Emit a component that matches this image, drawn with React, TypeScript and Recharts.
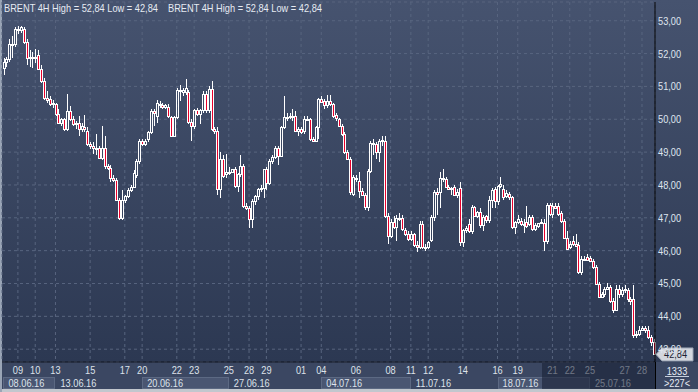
import { BarChart, Bar, XAxis, YAxis, CartesianGrid, ReferenceLine } from 'recharts';

// BRENT 4H candles, 08.06.16 – 28.07.16
const opens = [
    51.55, 51.75, 51.82, 52.3, 52.28, 52.75, 52.72, 52.75, 52.36, 51.85,
    51.9, 51.85, 51.97, 51.54, 51.18, 50.65, 50.62, 50.45, 50.45, 50.16,
    49.9, 50.0, 49.7, 50.26, 50.0, 49.85, 49.9, 49.7, 49.75, 49.65,
    49.24, 49.18, 49.13, 49.13, 48.83, 49.13, 48.57, 48.52, 48.2, 48.16,
    47.54, 46.98, 47.54, 47.65, 47.85, 47.95, 48.3, 48.72, 49.34, 49.24,
    49.39, 49.6, 50.26, 50.1, 50.45, 50.42, 50.36, 50.37, 50.06, 49.5,
    50.06, 50.9, 50.83, 50.83, 50.83, 49.91, 49.81, 50.27, 50.16, 50.27,
    50.78, 50.27, 50.93, 49.7, 49.65, 47.87, 48.79, 48.33, 48.4, 48.4,
    48.48, 47.97, 48.33, 48.58, 47.36, 47.31, 46.95, 47.51, 47.66, 47.87,
    47.92, 48.48, 48.07, 48.73, 48.84, 49.12, 48.89, 49.76, 50.06, 50.11,
    50.06, 50.11, 49.65, 49.7, 49.65, 50.01, 50.01, 49.4, 49.35, 49.76,
    50.62, 50.57, 50.42, 50.57, 50.47, 50.13, 50.0, 49.8, 49.55, 48.99,
    48.79, 47.73, 48.2, 48.13, 47.83, 47.68, 47.32, 48.43, 49.29, 49.24,
    48.99, 49.34, 49.34, 47.07, 46.46, 46.87, 46.72, 47.0, 47.0, 46.62,
    46.52, 46.36, 46.5, 46.16, 46.11, 46.82, 46.11, 46.11, 46.31, 47.02,
    47.78, 47.78, 48.21, 48.18, 47.93, 47.88, 47.93, 47.68, 47.91, 46.26,
    46.62, 46.82, 46.6, 47.32, 47.07, 47.17, 46.77, 47.07, 46.92, 47.53,
    47.87, 47.52, 47.97, 47.87, 47.67, 47.72, 47.62, 46.71, 46.86, 46.91,
    46.81, 46.86, 46.81, 47.01, 46.66, 46.76, 46.83, 46.83, 46.28, 47.39,
    47.11, 47.36, 47.36, 47.16, 46.91, 46.4, 46.1, 46.3, 46.2, 46.18,
    45.34, 45.75, 45.8, 45.78, 45.7, 45.5, 44.99, 44.59, 44.69, 44.84,
    44.89, 44.48, 44.18, 44.84, 44.69, 44.79, 44.79, 44.54, 44.54, 43.42,
    43.47, 43.58, 43.63, 43.58, 43.37, 43.22,
];
const highs = [
    51.85, 51.9, 52.45, 52.55, 52.82, 52.84, 52.84, 52.8, 52.45, 52.1,
    52.05, 52.15, 52.1, 51.65, 51.25, 50.85, 50.7, 50.6, 50.5, 50.3,
    50.05, 50.05, 50.78, 50.4, 50.1, 49.95, 50.1, 49.9, 50.12, 49.75,
    49.3, 49.3, 49.55, 49.2, 49.8, 49.5, 48.65, 48.6, 48.3, 48.2,
    47.6, 47.85, 47.7, 47.9, 48.0, 48.45, 48.8, 49.4, 49.4, 49.4,
    49.65, 50.3, 50.3, 50.6, 50.55, 50.5, 50.45, 50.45, 50.1, 50.1,
    50.95, 51.03, 50.95, 51.23, 50.9, 50.0, 50.3, 50.35, 50.3, 50.85,
    50.85, 51.0, 51.18, 49.75, 49.75, 49.0, 48.9, 48.95, 48.55, 48.5,
    48.55, 48.35, 48.9, 48.65, 47.45, 47.35, 47.56, 47.7, 47.9, 48.0,
    48.5, 48.55, 48.8, 48.9, 49.2, 49.2, 49.8, 50.7, 50.2, 50.2,
    50.3, 50.25, 49.75, 49.75, 50.1, 50.1, 50.05, 49.45, 49.8, 50.65,
    50.7, 50.62, 50.75, 50.75, 50.5, 50.2, 50.05, 49.85, 49.6, 49.05,
    48.85, 48.3, 48.3, 48.4, 47.9, 47.75, 48.5, 49.35, 49.4, 49.3,
    49.4, 49.5, 49.5, 47.15, 46.95, 47.05, 47.1, 47.15, 47.1, 46.7,
    46.6, 46.6, 46.55, 46.3, 46.9, 46.9, 46.2, 46.3, 47.1, 47.85,
    47.9, 48.4, 48.5, 48.25, 48.0, 47.95, 48.0, 47.88, 48.1, 46.65,
    46.75, 46.95, 47.4, 47.35, 47.2, 47.3, 47.1, 47.1, 47.65, 47.9,
    47.95, 48.0, 48.24, 48.0, 47.85, 47.8, 47.67, 46.9, 47.1, 47.0,
    46.95, 47.35, 47.1, 47.1, 46.85, 46.85, 46.95, 46.95, 47.45, 47.45,
    47.45, 47.45, 47.45, 47.2, 46.95, 46.6, 46.3, 46.45, 46.5, 46.25,
    45.85, 45.85, 45.9, 45.85, 45.75, 45.55, 45.05, 44.75, 44.9, 45.0,
    44.95, 44.55, 44.95, 44.95, 44.9, 44.95, 44.85, 44.6, 44.95, 43.55,
    43.7, 43.7, 43.7, 43.7, 43.42, 43.3,
];
const lows = [
    51.35, 51.6, 51.75, 51.85, 52.2, 52.6, 52.62, 52.3, 51.65, 51.6,
    51.55, 51.7, 51.5, 51.1, 50.6, 50.5, 50.4, 50.35, 50.1, 49.85,
    49.8, 49.65, 49.65, 49.95, 49.8, 49.7, 49.5, 49.6, 49.6, 49.2,
    49.1, 48.95, 48.9, 48.8, 48.75, 48.5, 48.45, 48.1, 48.1, 47.5,
    46.92, 46.93, 47.45, 47.6, 47.8, 47.9, 48.2, 48.65, 49.2, 49.2,
    49.3, 49.55, 49.8, 49.9, 50.35, 50.3, 50.3, 50.05, 49.45, 49.45,
    50.0, 50.57, 50.7, 50.75, 49.85, 49.35, 49.7, 50.1, 49.85, 50.2,
    50.2, 50.2, 49.65, 49.55, 47.7, 47.6, 48.2, 48.2, 48.3, 48.35,
    47.9, 47.8, 48.25, 47.3, 47.25, 46.69, 46.69, 47.4, 47.55, 47.8,
    47.6, 47.85, 48.0, 48.65, 48.8, 48.6, 48.85, 49.7, 49.95, 50.0,
    49.95, 49.6, 49.5, 49.55, 49.55, 49.95, 49.35, 49.3, 49.3, 49.4,
    50.5, 50.3, 50.35, 50.4, 50.05, 49.95, 49.75, 49.5, 48.95, 48.75,
    47.7, 47.65, 48.1, 47.6, 47.65, 47.25, 47.2, 48.35, 48.9, 48.8,
    48.7, 49.2, 47.0, 46.2, 46.4, 46.65, 46.3, 46.9, 46.6, 46.45,
    46.3, 46.3, 46.1, 45.95, 46.05, 46.05, 46.0, 46.05, 46.25, 46.9,
    47.1, 47.3, 48.1, 47.9, 47.85, 47.7, 47.65, 47.6, 46.15, 46.1,
    46.55, 46.55, 46.5, 47.05, 47.0, 46.7, 46.6, 46.85, 46.85, 47.3,
    47.3, 47.4, 47.9, 47.55, 47.6, 47.55, 46.65, 46.5, 46.8, 46.75,
    46.55, 46.7, 46.75, 46.6, 46.6, 46.7, 46.8, 46.0, 46.2, 47.05,
    47.0, 47.3, 47.05, 46.85, 46.35, 46.05, 46.05, 46.15, 46.1, 45.3,
    45.25, 45.7, 45.7, 45.65, 45.45, 44.95, 44.55, 44.55, 44.6, 44.8,
    44.4, 44.1, 44.15, 44.55, 44.6, 44.7, 44.45, 44.35, 43.35, 43.35,
    43.4, 43.55, 43.5, 43.3, 43.1, 42.84,
];
const closes = [
    51.75, 51.82, 52.3, 52.28, 52.75, 52.72, 52.8, 52.36, 51.85, 51.9,
    51.85, 51.9, 51.54, 51.18, 50.65, 50.6, 50.45, 50.5, 50.16, 49.9,
    50.0, 49.7, 50.26, 50.0, 49.85, 49.9, 49.7, 49.8, 49.7, 49.24,
    49.18, 49.13, 49.08, 48.83, 49.13, 48.57, 48.52, 48.2, 48.16, 47.54,
    46.98, 47.54, 47.65, 47.85, 47.95, 48.36, 48.72, 49.34, 49.24, 49.34,
    49.6, 50.26, 50.2, 50.5, 50.42, 50.36, 50.42, 50.11, 49.5, 50.06,
    50.88, 50.85, 50.88, 50.95, 49.91, 49.81, 50.27, 50.16, 50.27, 50.78,
    50.27, 50.93, 49.7, 49.65, 47.87, 48.79, 48.28, 48.4, 48.4, 48.48,
    47.97, 48.33, 48.58, 47.36, 47.31, 46.95, 47.51, 47.66, 47.87, 47.92,
    48.48, 48.07, 48.73, 48.84, 49.14, 48.89, 49.76, 50.06, 50.08, 50.06,
    50.11, 49.65, 49.7, 49.6, 50.01, 50.01, 49.4, 49.35, 49.76, 50.62,
    50.52, 50.42, 50.57, 50.47, 50.1, 50.03, 49.8, 49.55, 48.99, 48.79,
    47.78, 48.23, 48.2, 47.83, 47.68, 47.32, 48.43, 49.29, 49.24, 48.99,
    49.34, 49.36, 47.07, 46.46, 46.87, 46.72, 47.0, 46.97, 46.67, 46.5,
    46.36, 46.52, 46.16, 46.11, 46.82, 46.11, 46.11, 46.26, 47.02, 47.78,
    47.73, 48.21, 48.18, 47.93, 47.88, 47.9, 47.68, 47.8, 46.26, 46.62,
    46.7, 46.6, 47.32, 47.07, 47.17, 46.77, 47.02, 46.92, 47.53, 47.85,
    47.52, 47.97, 48.02, 47.62, 47.77, 47.62, 46.71, 46.86, 46.96, 46.81,
    46.79, 46.76, 47.01, 46.66, 46.79, 46.83, 46.86, 46.28, 47.39, 47.11,
    47.36, 47.31, 47.11, 46.91, 46.4, 46.05, 46.2, 46.2, 46.15, 45.34,
    45.75, 45.75, 45.72, 45.7, 45.5, 44.99, 44.59, 44.69, 44.84, 44.89,
    44.48, 44.18, 44.84, 44.69, 44.79, 44.84, 44.54, 44.48, 43.42, 43.47,
    43.58, 43.63, 43.58, 43.37, 43.22, 42.84,
];

// time axis: bar index where each day / week starts
const dayTicks = [5, 11, 18, 30, 42, 48, 60, 66, 78, 85, 91, 103, 110, 122, 134, 141, 147, 159, 171, 178, 190, 196, 203, 215, 221];
const dayLabels = ['09', '10', '13', '15', '17', '20', '22', '23', '25', '28', '29', '01', '04', '06', '08', '11', '12', '14', '16', '19', '21', '22', '25', '27', '28'];
const weekTicks = [0, 18, 48, 78, 110, 141, 171, 203];
const weekLabels = ['08.06.16', '13.06.16', '20.06.16', '27.06.16', '04.07.16', '11.07.16', '18.07.16', '25.07.16'];
const priceTicks = [43, 44, 45, 46, 47, 48, 49, 50, 51, 52, 53];
const dimFrom = 187; // first bar of the greyed part of the time scale

const N = opens.length;
const PLOT_LEFT = 2;
const PLOT_W = 653;
const PITCH = PLOT_W / N;
const RED = '#e8002b';
const FONT = "'Liberation Sans', Arial, sans-serif";
const SX = 0.84; // the terminal font is narrower than Arial
const fmt = (v: number) => v.toFixed(2).replace('.', ',');

const data = opens.map((o, i) => ({ i, o, h: highs[i], l: lows[i], c: closes[i] }));

function NarrowText({ x, y, anchor = 'start', fill, children }: any) {
    return (
        <text transform={`translate(${x} ${y}) scale(${SX} 1)`} textAnchor={anchor}
            fontSize={11} fontFamily={FONT} fill={fill}>{children}</text>
    );
}

function Candle(props: any) {
    const { x, y, width, height, payload } = props;
    if (!payload) return null;
    const { o, h, l, c } = payload;
    const top = Math.min(y, y + height);
    const bot = Math.max(y, y + height);
    const span = h - l || 1;
    const py = (p: number) => top + ((h - p) / span) * (bot - top);
    const cx = Math.round(x + width / 2);
    const bTop = Math.round(py(Math.max(o, c)));
    const bBot = Math.max(Math.round(py(Math.min(o, c))), bTop + 1);
    const yH = Math.round(top);
    const yL = Math.round(bot);
    return (
        <g>
            {bTop > yH && <line x1={cx + 0.5} x2={cx + 0.5} y1={yH} y2={bTop} stroke="#fff" />}
            {yL > bBot && <line x1={cx + 0.5} x2={cx + 0.5} y1={bBot} y2={yL} stroke="#fff" />}
            <rect x={cx - 0.5} y={bTop + 0.5} width={2} height={bBot - bTop}
                fill={c < o ? RED : 'none'} stroke="#fff" />
        </g>
    );
}

function DayTick({ x, y, payload }: any) {
    const k = dayTicks.indexOf(payload.value);
    if (k < 0) return null;
    return <NarrowText x={x} y={y + 12} anchor="middle" fill="#dde2ea">{dayLabels[k]}</NarrowText>;
}

function WeekTick({ x, y, payload }: any) {
    const k = weekTicks.indexOf(payload.value);
    if (k < 0) return null;
    const next = k + 1 < weekTicks.length ? weekTicks[k + 1] : N;
    const w = (next - payload.value) * PITCH;
    return (
        <g>
            {k % 2 === 0 && (
                <rect x={Math.round(x) + 0.5} y={y + 1.5} width={Math.round(w) - 1} height={11}
                    fill="#4a5672" stroke="#5c6983" />
            )}
            <NarrowText x={x + 5} y={y + 11} fill="#dde2ea">{weekLabels[k]}</NarrowText>
        </g>
    );
}

function PriceTick({ x, y, payload }: any) {
    return <NarrowText x={x} y={y + 4} fill="#dfe5ef">{fmt(payload.value)}</NarrowText>;
}

function LastTag(props: any) {
    const vb = props.viewBox || {};
    const x0 = vb.x + vb.width + 1;
    const yc = vb.y;
    const pts = `${x0},${yc} ${x0 + 6},${yc - 6.5} ${x0 + 37},${yc - 6.5} ${x0 + 37},${yc + 6.5} ${x0 + 6},${yc + 6.5}`;
    return (
        <g>
            <polygon points={pts} fill="#d3d7de" stroke="#9aa3b3" />
            <NarrowText x={x0 + 8} y={yc + 4} fill="#1b2233">{fmt(props.value)}</NarrowText>
        </g>
    );
}

export default function App() {
    const last = closes[N - 1];
    const text = {
        position: 'absolute' as const, fontFamily: FONT, fontSize: 11, lineHeight: '12px',
        color: '#e6ebf3', whiteSpace: 'nowrap' as const, transform: `scaleX(${SX})`,
    };
    const dimLeft = PLOT_LEFT + dimFrom * PITCH;
    return (
        <div style={{ position: 'absolute', left: 0, top: 0, width: 698, height: 392, overflow: 'hidden', background: '#3b4762' }}>
            <div style={{ position: 'absolute', left: 0, top: 0, width: 698, height: 362, background: 'linear-gradient(#46536f, #2c3852)' }} />
            <div style={{ position: 'absolute', left: 0, top: 389, width: 698, height: 3, background: '#c2c7ce' }} />
            <div style={{ position: 'absolute', left: 0, top: 0, width: 2, height: 392, background: '#9aa5b6' }} />
            <div style={{ position: 'absolute', left: 0, top: 0 }}>
                <BarChart width={698} height={392} data={data} barCategoryGap={0} barGap={0}
                    margin={{ top: 2, right: 0, bottom: 0, left: PLOT_LEFT }}>
                    <CartesianGrid stroke="#58657f" strokeDasharray="3 3" />
                    <XAxis dataKey="i" ticks={dayTicks} interval={0} tick={<DayTick />} tickLine={false}
                        tickSize={0} tickMargin={0} height={14} axisLine={{ stroke: '#10151f' }} />
                    <XAxis xAxisId="w" dataKey="i" ticks={weekTicks} interval={0} tick={<WeekTick />}
                        tickLine={false} tickSize={0} tickMargin={0} height={16} axisLine={false} />
                    <YAxis orientation="right" domain={[42.61, 53.57]} allowDataOverflow ticks={priceTicks}
                        interval={0} width={43} tick={<PriceTick />} tickLine={false} tickSize={0}
                        tickMargin={3} axisLine={{ stroke: '#000' }} />
                    <Bar dataKey={(d: any) => [d.l, d.h]} shape={(p: any) => <Candle {...p} />}
                        isAnimationActive={false} />
                    <ReferenceLine y={last} stroke="none" label={<LastTag value={last} />} />
                </BarChart>
            </div>
            <div style={{ position: 'absolute', left: dimLeft, top: 363, width: PLOT_LEFT + PLOT_W - dimLeft, height: 26, background: 'rgba(22,30,50,0.55)' }} />
            <div style={{ position: 'absolute', left: 655, top: 362, width: 1, height: 27, background: '#000' }} />
            <div style={{ ...text, left: 4, top: 2, transformOrigin: 'left top' }}>BRENT 4H High = 52,84 Low = 42,84</div>
            <div style={{ ...text, left: 168, top: 2, transformOrigin: 'left top' }}>BRENT 4H High = 52,84 Low = 42,84</div>
            <div style={{ ...text, left: 656, top: 365, width: 42, textAlign: 'center' }}>1333</div>
            <div style={{ position: 'absolute', left: 665, top: 376, width: 24, height: 1, background: '#c8d0dc' }} />
            <div style={{ ...text, left: 656, top: 377, width: 42, textAlign: 'center' }}>&gt;227&lt;</div>
        </div>
    );
}
